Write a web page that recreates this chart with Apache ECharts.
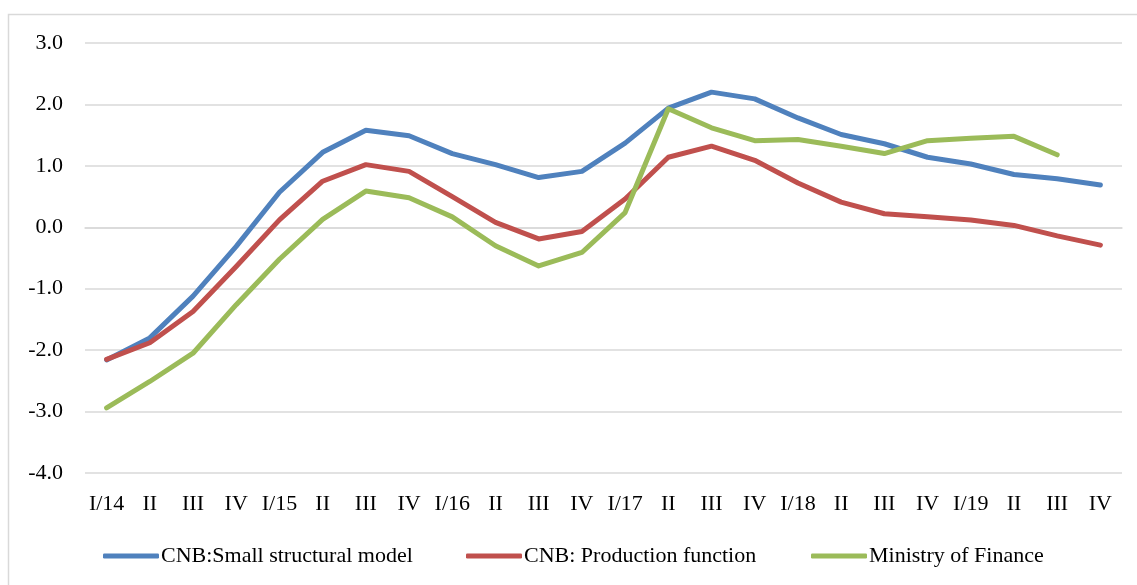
<!DOCTYPE html>
<html>
<head>
<meta charset="utf-8">
<script src="https://cdn.jsdelivr.net/npm/echarts@6/dist/echarts.min.js"></script>
<style>
    html, body { margin: 0; padding: 0; background: #fff; }
    #chart { width: 1137px; height: 585px; }
</style>
</head>
<body>
<div id="chart"></div>
<script>
    // quarters I/14 .. IV/19
    var quarters = ['I/14', 'II', 'III', 'IV', 'I/15', 'II', 'III', 'IV', 'I/16', 'II', 'III', 'IV',
        'I/17', 'II', 'III', 'IV', 'I/18', 'II', 'III', 'IV', 'I/19', 'II', 'III', 'IV'];

    var smallStructural = [-2.16, -1.80, -1.12, -0.31, 0.57, 1.22, 1.58, 1.49, 1.20, 1.02, 0.81, 0.91,
        1.37, 1.94, 2.20, 2.09, 1.78, 1.51, 1.36, 1.14, 1.03, 0.86, 0.79, 0.69];
    var productionFunction = [-2.15, -1.88, -1.37, -0.64, 0.12, 0.75, 1.02, 0.91, 0.50, 0.08, -0.19, -0.07,
        0.46, 1.14, 1.32, 1.09, 0.72, 0.41, 0.22, 0.17, 0.12, 0.03, -0.14, -0.29];
    var ministryFinance = [-2.94, -2.51, -2.05, -1.26, -0.52, 0.13, 0.59, 0.48, 0.17, -0.30, -0.63, -0.41,
        0.24, 1.93, 1.62, 1.41, 1.43, 1.32, 1.20, 1.41, 1.45, 1.48, 1.18, null];

    var seriesNames = ['CNB:Small structural model', 'CNB: Production function', 'Ministry of Finance'];
    var colors = ['#4F81BD', '#C0504D', '#9BBB59'];
    var legendLeft = [98, 461, 806];

    var font = '"Liberation Serif", "Times New Roman", serif';
    var chart = echarts.init(document.getElementById('chart'));

    function lineSeries(name, data, color) {
        return {
            name: name,
            type: 'line',
            data: data,
            symbol: 'none',
            smooth: false,
            lineStyle: { color: color, width: 5, cap: 'round', join: 'round' },
            itemStyle: { color: color }
        };
    }

    // one legend per item so each sits where the reference has it
    var legends = seriesNames.map(function (name, i) {
        return {
            left: legendLeft[i],
            top: 540,
            itemWidth: 56,
            itemHeight: 5,
            icon: 'roundRect',
            textStyle: { fontFamily: font, fontSize: 22, color: '#000', padding: [0, 0, 0, -3] },
            data: [name]
        };
    });

    var option = {
        animation: false,
        color: colors,
        textStyle: { fontFamily: font },
        graphic: [{
            type: 'rect',
            shape: { x: 8.5, y: 14.5, width: 1140, height: 580 },
            style: { fill: 'none', stroke: '#d9d9d9', lineWidth: 1.5 },
            silent: true
        }],
        grid: { left: 85, right: 15, top: 43, bottom: 112 },
        legend: legends,
        xAxis: {
            type: 'category',
            data: quarters,
            boundaryGap: true,
            axisLine: { lineStyle: { color: '#d9d9d9', width: 1.5 } },
            axisTick: { show: false },
            axisLabel: { interval: 0, margin: 20, color: '#000', fontFamily: font, fontSize: 22 }
        },
        yAxis: {
            type: 'value',
            min: -4,
            max: 3,
            interval: 1,
            axisLine: { show: false },
            axisTick: { show: false },
            splitLine: { lineStyle: { color: '#d9d9d9', width: 1.5 } },
            axisLabel: {
                margin: 22,
                color: '#000',
                fontFamily: font,
                fontSize: 22,
                formatter: function (v) { return v.toFixed(1); }
            }
        },
        series: [
            lineSeries(seriesNames[0], smallStructural, colors[0]),
            lineSeries(seriesNames[1], productionFunction, colors[1]),
            lineSeries(seriesNames[2], ministryFinance, colors[2])
        ]
    };

    chart.setOption(option);
</script>
</body>
</html>
